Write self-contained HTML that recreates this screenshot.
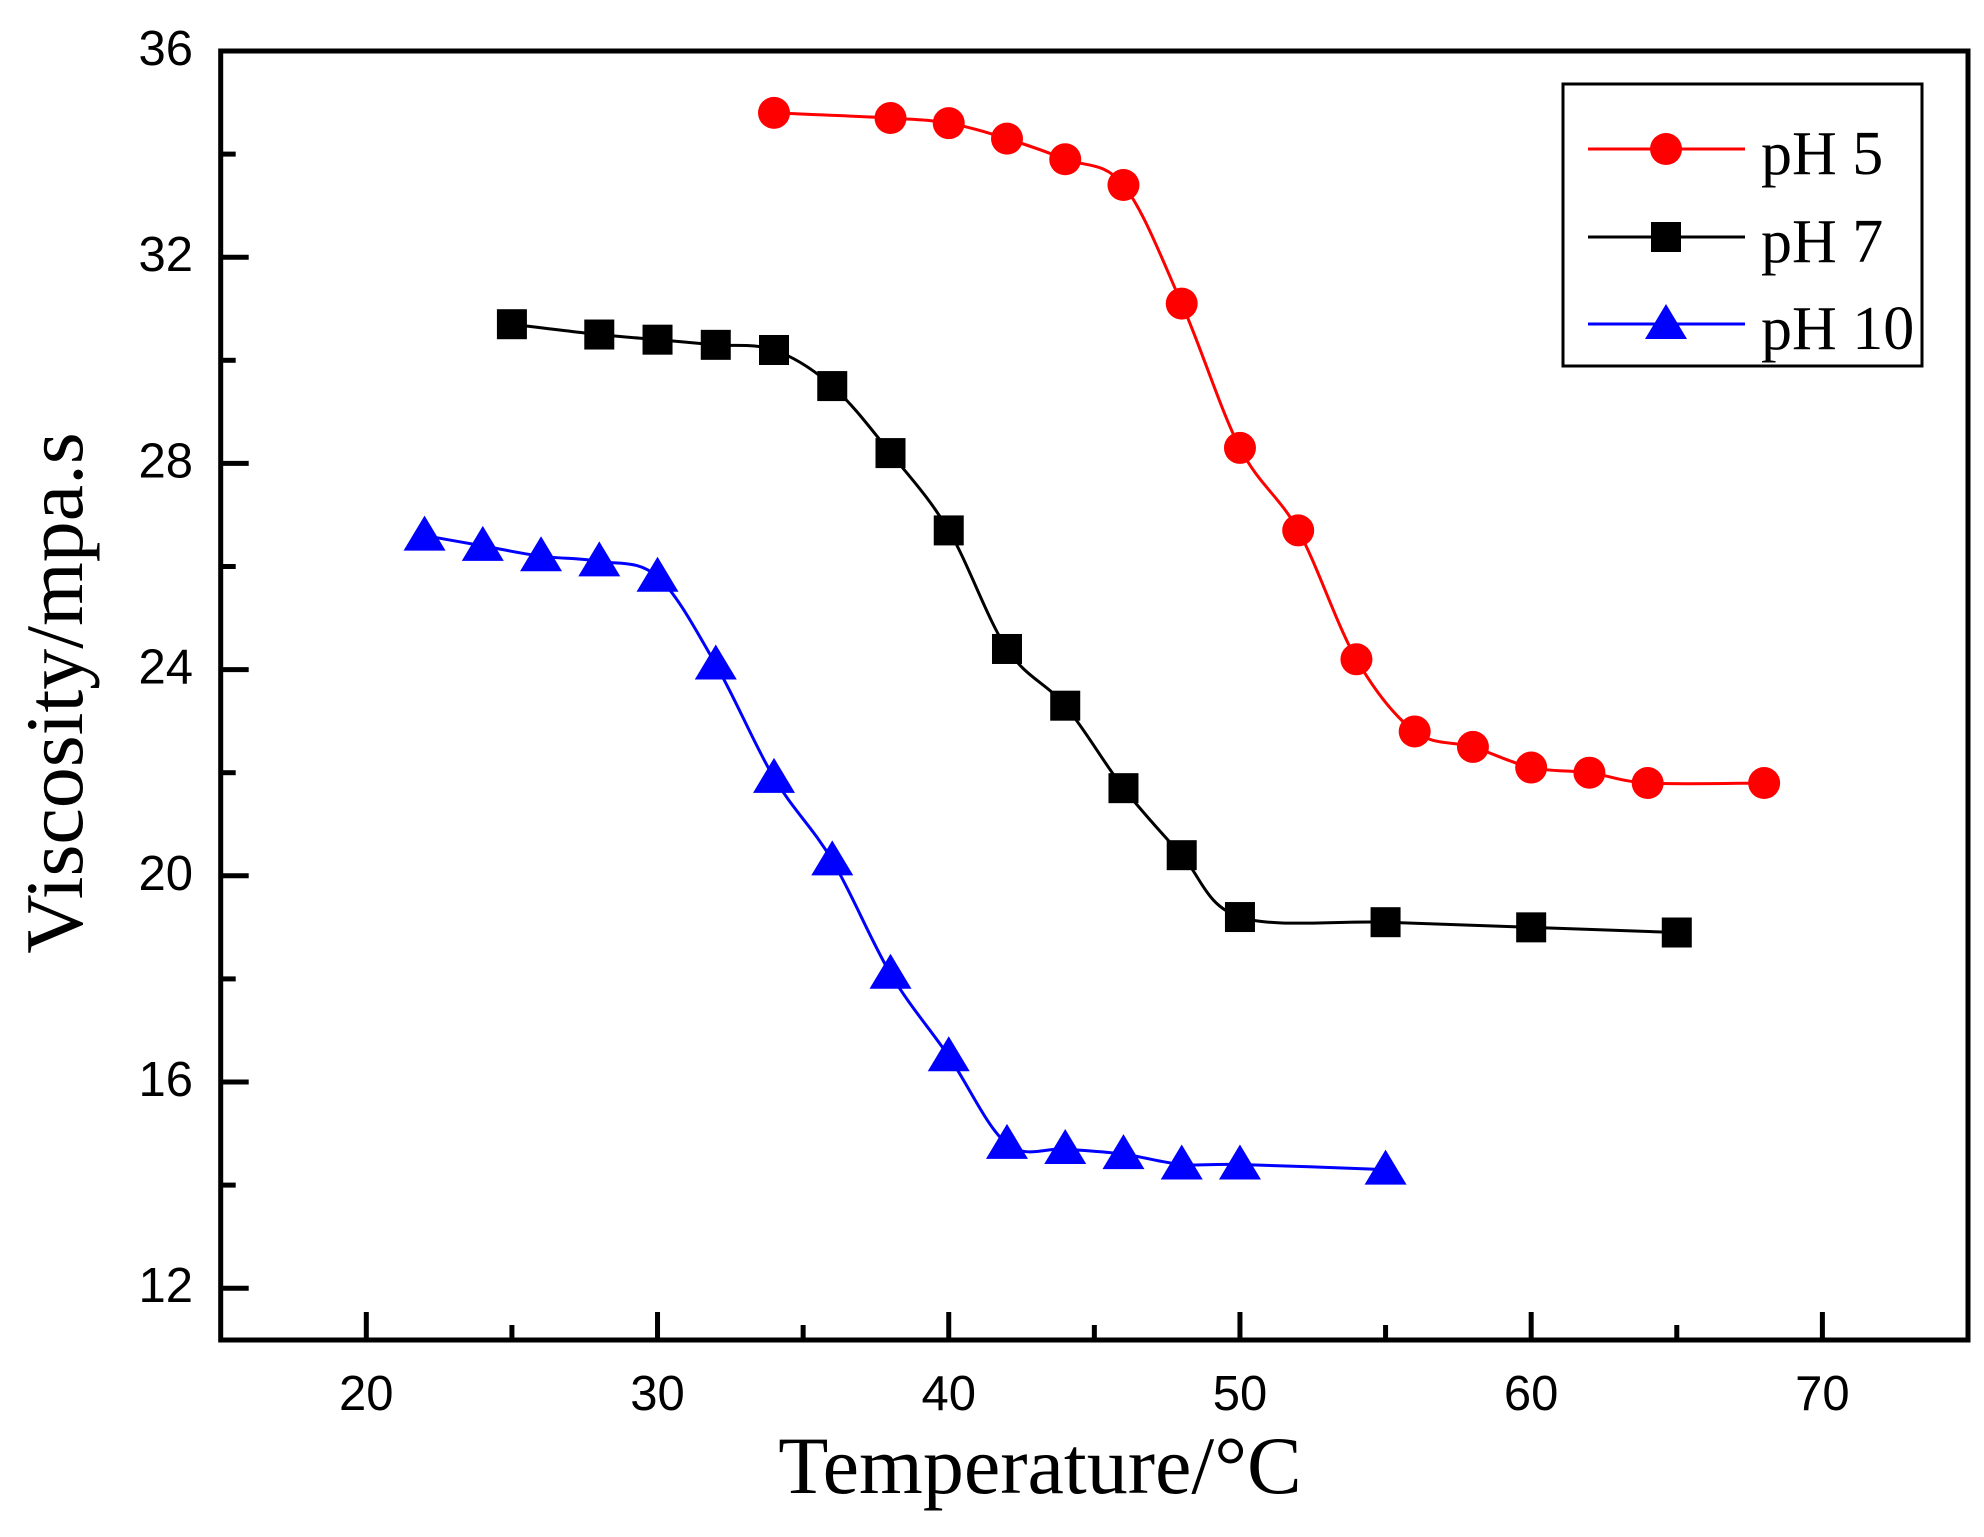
<!DOCTYPE html>
<html><head><meta charset="utf-8"><style>
html,body{margin:0;padding:0;background:#fff;}
svg{display:block;}
</style></head><body>
<svg id="chart" width="1984" height="1537" xmlns="http://www.w3.org/2000/svg">
<rect x="0" y="0" width="1984" height="1537" fill="#fff"/>
<g id="plot"></g>
<g id="axes"></g>
<text x="1040" y="1493" text-anchor="middle" font-family="Liberation Serif, serif" font-size="82">Temperature/°C</text>
<text transform="translate(82,693) rotate(-90)" text-anchor="middle" font-family="Liberation Serif, serif" font-size="82">Viscosity/mpa.s</text>
<g id="legend"></g>
</svg>
<script>
const ph5X = [34,38,40,42,44,46,48,50,52,54,56,58,60,62,64,68];
const ph5Y = [34.8,34.7,34.6,34.3,33.9,33.4,31.1,28.3,26.7,24.2,22.8,22.5,22.1,22.0,21.8,21.8];
const ph7X = [25,28,30,32,34,36,38,40,42,44,46,48,50,55,60,65];
const ph7Y = [30.7,30.5,30.4,30.3,30.2,29.5,28.2,26.7,24.4,23.3,21.7,20.4,19.2,19.1,19.0,18.9];
const ph10X = [22,24,26,28,30,32,34,36,38,40,42,44,46,48,50,55];
const ph10Y = [26.6,26.4,26.2,26.1,25.8,24.1,21.9,20.3,18.1,16.5,14.8,14.7,14.6,14.4,14.4,14.3];
const xTicks = [20,30,40,50,60,70];
const xMinor = [25,35,45,55,65];
const yTicks = [12,16,20,24,28,32,36];
const yMinor = [14,18,22,26,30,34];
const seriesNames = ["pH 5","pH 7","pH 10"];

const NS = "http://www.w3.org/2000/svg";
const X0 = 220.7, X1 = 1968, Y0 = 1340, Y1 = 51;
const xMin = 15, xMax = 75, yMin = 11, yMax = 36;
function sx(v){ return X0 + (v - xMin) / (xMax - xMin) * (X1 - X0); }
function sy(v){ return Y1 + (yMax - v) * 51.55; }
function mk(tag, attrs, parent){ const e = document.createElementNS(NS, tag); for (const k in attrs) e.setAttribute(k, attrs[k]); parent.appendChild(e); return e; }

const plot = document.getElementById('plot');
const axes = document.getElementById('axes');
const legend = document.getElementById('legend');

function smoothPath(xs, ys){
  const p = xs.map((x,i)=>[sx(x), sy(ys[i])]);
  let d = `M${p[0][0]},${p[0][1]}`;
  for (let i=0;i<p.length-1;i++){
    const p0 = p[Math.max(0,i-1)], p1 = p[i], p2 = p[i+1], p3 = p[Math.min(p.length-1,i+2)];
    const t = 1/6;
    const c1 = [p1[0]+(p2[0]-p0[0])*t, p1[1]+(p2[1]-p0[1])*t];
    const c2 = [p2[0]-(p3[0]-p1[0])*t, p2[1]-(p3[1]-p1[1])*t];
    d += ` C${c1[0]},${c1[1]} ${c2[0]},${c2[1]} ${p2[0]},${p2[1]}`;
  }
  return d;
}
function marker(shape, cx, cy, color, parent){
  let m;
  if (shape === 'circle') m = mk('circle', {cx:cx, cy:cy, r:16, fill:color}, parent);
  else if (shape === 'square') m = mk('rect', {x:cx-15, y:cy-15, width:30, height:30, fill:color}, parent);
  else m = mk('polygon', {points:`${cx},${cy-20} ${cx+21},${cy+15} ${cx-21},${cy+15}`, fill:color}, parent);
  return m;
}
const series = [
  {x:ph5X, y:ph5Y, color:'#ff0000', shape:'circle', key:'ph5'},
  {x:ph7X, y:ph7Y, color:'#000000', shape:'square', key:'ph7'},
  {x:ph10X, y:ph10Y, color:'#0000ff', shape:'triangle', key:'ph10'}
];
series.forEach(s => {
  const line = mk('path', {d:smoothPath(s.x, s.y), fill:'none', stroke:s.color, 'stroke-width':3}, plot);
  
  
  s.x.forEach((xv, i) => {
    const m = marker(s.shape, sx(xv), sy(s.y[i]), s.color, plot);
    
    
  });
});

const frame = mk('rect', {x:X0, y:Y1, width:X1-X0, height:Y0-Y1, fill:'none', stroke:'#000', 'stroke-width':5}, axes);


xTicks.forEach(v => {
  const t = mk('line', {x1:sx(v), x2:sx(v), y1:Y0, y2:Y0-28, stroke:'#000', 'stroke-width':5}, axes);
  
  
  const l = mk('text', {x:sx(v), y:1410, 'text-anchor':'middle', 'font-family':'Liberation Sans, sans-serif', 'font-size':49}, axes);
  l.textContent = v;
  
  
});
xMinor.forEach(v => {
  const t = mk('line', {x1:sx(v), x2:sx(v), y1:Y0, y2:Y0-15, stroke:'#000', 'stroke-width':5}, axes);
  
  
});
yTicks.forEach(v => {
  const t = mk('line', {x1:X0, x2:X0+28, y1:sy(v), y2:sy(v), stroke:'#000', 'stroke-width':5}, axes);
  
  
  const l = mk('text', {x:193, y:sy(v)+14, 'text-anchor':'end', 'font-family':'Liberation Sans, sans-serif', 'font-size':49}, axes);
  l.textContent = v;
  
  
});
yMinor.forEach(v => {
  const t = mk('line', {x1:X0, x2:X0+15, y1:sy(v), y2:sy(v), stroke:'#000', 'stroke-width':5}, axes);
  
  
});

const lb = mk('rect', {x:1563, y:84, width:359, height:282, fill:'#fff', stroke:'#000', 'stroke-width':3}, legend);


const rowY = [149, 237, 324];
series.forEach((s, i) => {
  const g = mk('g', {}, legend);
  
  
  mk('line', {x1:1588, x2:1745, y1:rowY[i], y2:rowY[i], stroke:s.color, 'stroke-width':3}, g);
  marker(s.shape, 1666, rowY[i], s.color, g);
  const t = mk('text', {x:1761, y:rowY[i]+25, 'font-family':'Liberation Serif, serif', 'font-size':62}, g);
  t.textContent = seriesNames[i];
});
</script>
</body></html>
